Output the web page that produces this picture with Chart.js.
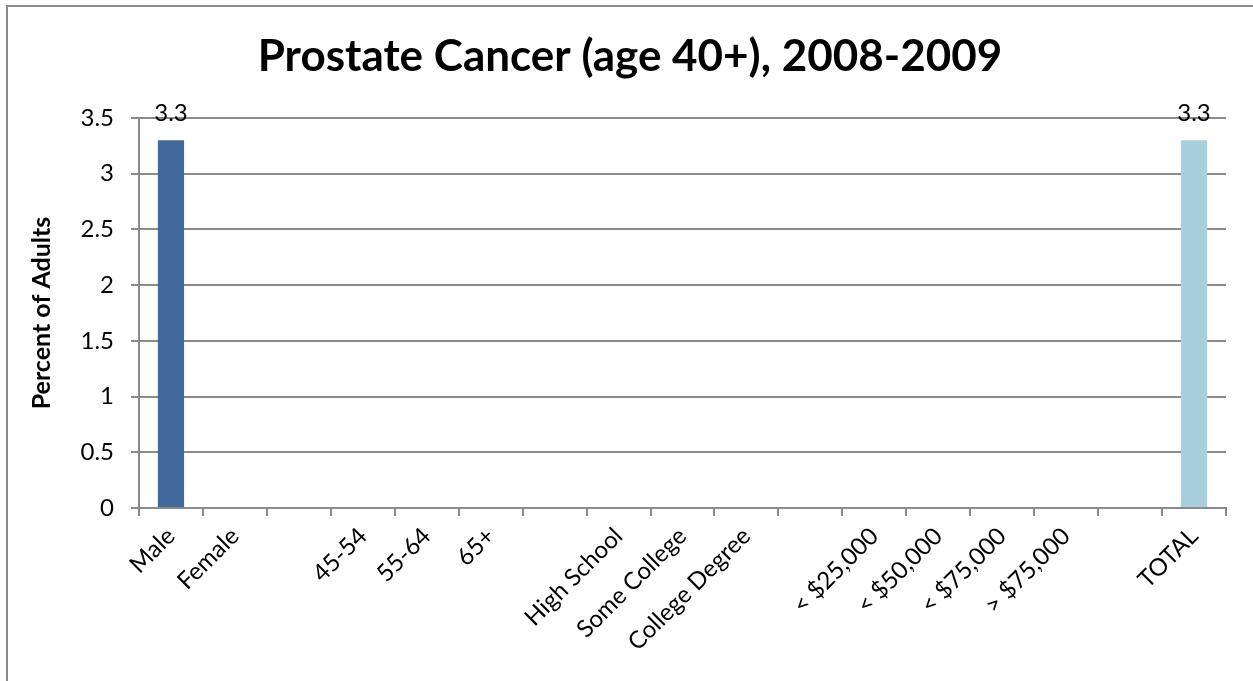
<!DOCTYPE html>
<html>
<head>
<meta charset="utf-8">
<script src="https://cdn.jsdelivr.net/npm/chart.js@4"></script>
<style>
	html, body { margin: 0; padding: 0; background: #fff; }
	#wrap { position: relative; width: 1253px; height: 681px; overflow: hidden; }
	#frame { position: absolute; left: 6px; top: 5px; width: 1300px; height: 700px;
		border-left: 2px solid #8a8a8a; border-top: 2px solid #8a8a8a; pointer-events: none; }
	canvas { position: absolute; left: 0; top: 0; }
</style>
</head>
<body>
<div id="wrap">
	<canvas id="prostateChart" width="1253" height="681"></canvas>
	<div id="frame"></div>
</div>
<script>
	// chart data
	const chartTitle = "Prostate Cancer (age 40+), 2008-2009";
	const categories = ["Male", "Female", "", "45-54", "55-64", "65+", "", "High School", "Some College",
		"College Degree", "", "< $25,000", "< $50,000", "< $75,000", "> $75,000", "", "TOTAL"];
	const percentValues = [3.3, null, null, null, null, null, null, null, null,
		null, null, null, null, null, null, null, 3.3];
	const barColors = ["#41699b", "#41699b", "#41699b", "#41699b", "#41699b", "#41699b", "#41699b", "#41699b", "#41699b",
		"#41699b", "#41699b", "#41699b", "#41699b", "#41699b", "#41699b", "#41699b", "#a9cedc"];
	const yTicks = [0, 0.5, 1, 1.5, 2, 2.5, 3, 3.5];

	const fontFamily = "Lato, 'Open Sans', sans-serif";
	const gridColor = "#8a8a8a";

	// title, centred over the whole frame like the original
	const frameTitle = {
		id: "frameTitle",
		afterDraw(chart) {
			const ctx = chart.ctx;
			ctx.save();
			ctx.font = "bold 44px " + fontFamily;
			ctx.fillStyle = "#000";
			ctx.textAlign = "center";
			ctx.textBaseline = "middle";
			ctx.fillText(chartTitle, 630, 57);
			ctx.restore();
		}
	};

	// value labels above bars
	const barLabels = {
		id: "barLabels",
		afterDatasetsDraw(chart) {
			const ctx = chart.ctx;
			const meta = chart.getDatasetMeta(0);
			ctx.save();
			ctx.font = "24px " + fontFamily;
			ctx.fillStyle = "#000";
			ctx.textAlign = "center";
			ctx.textBaseline = "alphabetic";
			meta.data.forEach((bar, i) => {
				const v = percentValues[i];
				if (v === null) return;
				ctx.fillText(v.toFixed(1), bar.x, bar.y - 19);
			});
			ctx.restore();
		}
	};

	new Chart(document.getElementById("prostateChart"), {
		type: "bar",
		data: {
			labels: categories,
			datasets: [
				{
					label: "Percent of Adults",
					data: percentValues,
					backgroundColor: barColors,
					barPercentage: 0.41,
					categoryPercentage: 1,
				},
			],
		},
		options: {
			responsive: false,
			animation: false,
			layout: { padding: { left: 0, right: 27, top: 118, bottom: 0 } },
			plugins: {
				legend: { display: false },
				tooltip: { enabled: false },
				title: { display: false },
			},
			scales: {
				x: {
					grid: { offset: true, drawOnChartArea: false, color: gridColor, lineWidth: 2, tickLength: 8 },
					border: { color: gridColor, width: 2 },
					ticks: {
						color: "#000",
						font: { family: fontFamily, size: 24 },
						minRotation: 45,
						maxRotation: 45,
						autoSkip: false,
						padding: 6,
					},
					afterFit(scale) { scale.height = 173; },
				},
				y: {
					min: 0,
					max: 3.5,
					afterBuildTicks(scale) { scale.ticks = yTicks.map(v => ({ value: v })); },
					grid: { color: gridColor, lineWidth: 2, tickLength: 8 },
					border: { color: gridColor, width: 2 },
					ticks: {
						color: "#000",
						font: { family: fontFamily, size: 24 },
						padding: 17,
						callback: v => String(v),
					},
					title: {
						display: true,
						text: "Percent of Adults",
						color: "#000",
						font: { family: fontFamily, size: 25, weight: "bold", lineHeight: 1.2 },
						padding: { top: 27, bottom: 0 },
					},
					afterFit(scale) { scale.width = 139; },
				},
			},
		},
		plugins: [barLabels, frameTitle],
	});
</script>
</body>
</html>
